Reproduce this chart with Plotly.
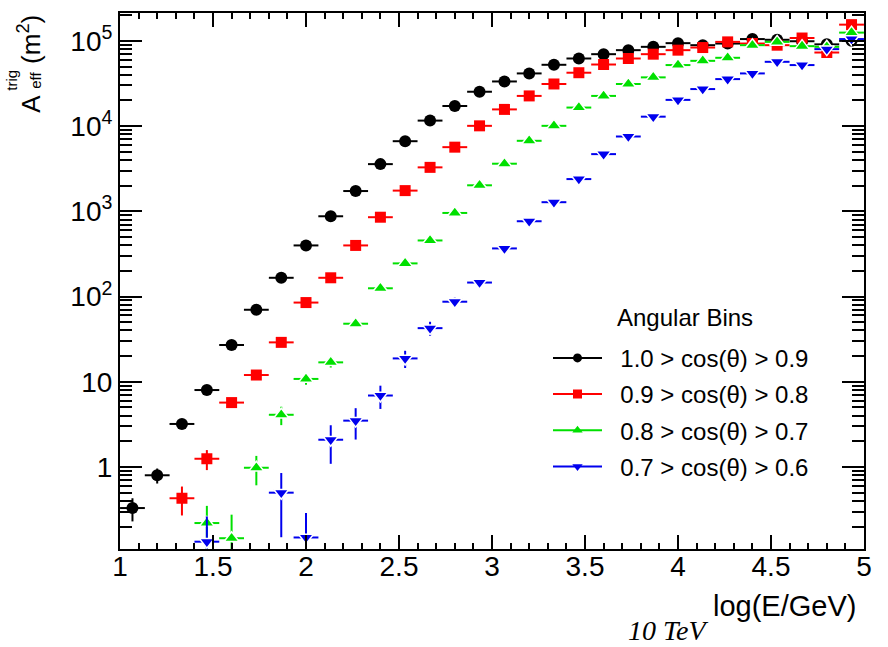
import plotly.graph_objects as go

# Energy bin centres, log10(E/GeV); 30 bins of width 0.1333 between 1 and 5
log_energy = [1.067, 1.2, 1.333, 1.467, 1.6, 1.733, 1.867, 2.0, 2.133, 2.267,
              2.4, 2.533, 2.667, 2.8, 2.933, 3.067, 3.2, 3.333, 3.467, 3.6,
              3.733, 3.867, 4.0, 4.133, 4.267, 4.4, 4.533, 4.667, 4.8, 4.933]
bin_half_width = 0.0667

# Triggered effective area (m^2) per zenith-angle bin
aeff_cos_10_09 = [0.33, 0.8, 3.2, 8.0, 27, 70, 166, 398, 875, 1730,
                  3580, 6650, 11600, 17200, 25300, 33400, 41500, 52400, 62100, 69800,
                  77800, 85100, 94000, 89000, 93000, 105000, 103000, 99000, 91000, 100000]
err_cos_10_09 = [0.1, 0.16, 0.4, 0.8, 1.8, 3.5, 6, 10, 15, 22,
                 32, 45, 60, 75, 90, 105, 115, 130, 140, 150,
                 160, 170, 180, 175, 180, 190, 190, 190, 185, 190]

aeff_cos_09_08 = [None, None, 0.43, 1.25, 5.7, 12, 29, 85, 166, 398,
                  853, 1750, 3280, 5660, 10070, 15700, 22600, 31200, 42300, 52800,
                  62100, 69800, 77800, 83500, 97300, 93100, 89000, 108000, 73000, 155000]
err_cos_09_08 = [None, None, 0.16, 0.33, 0.6, 1.0, 1.8, 3, 5, 8,
                 12, 18, 25, 34, 45, 55, 65, 80, 95, 105,
                 115, 125, 130, 140, 150, 150, 150, 165, 140, 210]

aeff_cos_08_07 = [None, None, None, 0.22, 0.146, 0.98, 4.1, 10.8, 16.9, 48,
                  125, 245, 455, 957, 2020, 3620, 6720, 10070, 16500, 22600,
                  31200, 37300, 52000, 58300, 63300, 89000, 97300, 86700, 85100, 125000]
err_cos_08_07 = [None, None, None, 0.13, 0.13, 0.37, 1.0, 1.6, 2.2, 4,
                 7, 10, 14, 20, 30, 40, 55, 70, 90, 105,
                 125, 135, 160, 170, 180, 210, 220, 210, 210, 250]

aeff_cos_07_06 = [None, None, None, 0.133, None, None, 0.5, 0.149, 2.09, 3.5,
                  6.9, 18.8, 42.6, 87, 146, 367, 765, 1280, 2390, 4690,
                  7550, 12900, 20300, 27200, 35600, 41500, 56800, 52000, 80000, 105000]
err_cos_07_06 = [None, None, None, 0.13, None, None, 0.35, 0.14, 1.0, 1.4,
                 2.1, 4.3, 8, 10, 13, 20, 30, 38, 50, 70,
                 90, 110, 140, 165, 190, 200, 240, 230, 280, 320]

series_names = ["1.0 > cos(\u03b8) > 0.9", "0.9 > cos(\u03b8) > 0.8",
                "0.8 > cos(\u03b8) > 0.7", "0.7 > cos(\u03b8) > 0.6"]
legend_title = "Angular Bins"

y_tick_values = [1, 10, 100, 1000, 10000, 100000]
y_tick_labels = ["1", "10", "10<sup>2</sup>", "10<sup>3</sup>", "10<sup>4</sup>", "10<sup>5</sup>"]
x_tick_values = [1, 1.5, 2, 2.5, 3, 3.5, 4, 4.5, 5]
x_tick_labels = ["1", "1.5", "2", "2.5", "3", "3.5", "4", "4.5", "5"]

SANS = "Liberation Sans, Arial, sans-serif"

styles = [
    dict(color="#000000", symbol="circle", size=12, line=dict(width=0)),
    dict(color="#ff0000", symbol="square", size=11, line=dict(width=0)),
    dict(color="#00e000", symbol="triangle-up", size=13, line=dict(width=1.5, color="white")),
    dict(color="#0000ee", symbol="triangle-down", size=13, line=dict(width=1.5, color="white")),
]
legend_marker_sizes = [9, 9, 9, 9]

fig = go.Figure()

datasets = [
    (aeff_cos_10_09, err_cos_10_09),
    (aeff_cos_09_08, err_cos_09_08),
    (aeff_cos_08_07, err_cos_08_07),
    (aeff_cos_07_06, err_cos_07_06),
]

for (vals, errs), st, name in zip(datasets, styles, series_names):
    xs = [x for x, v in zip(log_energy, vals) if v is not None]
    ys = [v for v in vals if v is not None]
    es = [e for e, v in zip(errs, vals) if v is not None]
    fig.add_trace(go.Scatter(
        x=xs, y=ys, mode="markers", showlegend=False, cliponaxis=True,
        marker=dict(color=st["color"], symbol=st["symbol"], size=st["size"], line=st["line"]),
        error_x=dict(type="constant", value=bin_half_width, color=st["color"],
                     thickness=2, width=0),
        error_y=dict(type="data", array=es, color=st["color"], thickness=2, width=0),
    ))

# Legend entries drawn as line + marker samples
for i, (st, name, ms) in enumerate(zip(styles, series_names, legend_marker_sizes)):
    fig.add_trace(go.Scatter(
        x=[None], y=[None], mode="lines+markers", name="\u00a0\u00a0" + name,
        legendgroup=f"g{i}",
        line=dict(color=st["color"], width=2),
        marker=dict(color=st["color"], symbol=st["symbol"], size=ms),
    ))

axis_common = dict(
    showline=True, linecolor="black", linewidth=2, mirror="allticks",
    ticks="inside", tickcolor="black", tickwidth=1.5,
    showgrid=False, zeroline=False,
    tickfont=dict(family=SANS, size=28, color="black"),
)

fig.update_xaxes(
    range=[1, 5], tickmode="array", tickvals=x_tick_values, ticktext=x_tick_labels,
    ticklen=14, ticklabelstandoff=-9,
    minor=dict(ticks="inside", ticklen=6, tickwidth=1.5, tickcolor="black", dtick=0.1, showgrid=False),
    **axis_common,
)
fig.update_yaxes(
    type="log", range=[-0.962, 5.327], tickmode="array",
    tickvals=y_tick_values, ticktext=y_tick_labels,
    ticklen=22,
    minor=dict(ticks="inside", ticklen=12, tickwidth=1.5, tickcolor="black", dtick="D1", showgrid=False),
    **axis_common,
)

L, R, T, B = 120, 24, 11, 98
W, H = 888, 647
pw, ph = W - L - R, H - T - B


def px(x):
    return (x - L) / pw


def py(y):
    return (H - B - y) / ph


annotations = [
    dict(text=legend_title, x=px(685), y=py(317), xanchor="center", yanchor="middle",
         font=dict(family=SANS, size=24, color="black")),
    dict(text="log(E/GeV)", x=px(858), y=py(606), xanchor="right", yanchor="middle",
         font=dict(family=SANS, size=29, color="black")),
    dict(text="<i>10 TeV</i>", x=px(668), y=py(631), xanchor="center", yanchor="middle",
         font=dict(family="Liberation Serif, Times New Roman, serif", size=28, color="black")),
    # y-axis title: A with stacked sub/superscript, then units
    dict(text="A", x=px(31), y=py(102), textangle=-90, xanchor="center", yanchor="middle",
         font=dict(family=SANS, size=26, color="black")),
    dict(text="trig", x=px(12), y=py(78), textangle=-90, xanchor="center", yanchor="middle",
         font=dict(family=SANS, size=15, color="black")),
    dict(text="eff", x=px(36), y=py(79), textangle=-90, xanchor="center", yanchor="middle",
         font=dict(family=SANS, size=15, color="black")),
    dict(text="(m<sup>2</sup>)", x=px(30), y=py(38), textangle=-90, xanchor="center", yanchor="middle",
         font=dict(family=SANS, size=26, color="black")),
]
for a in annotations:
    a.update(xref="paper", yref="paper", showarrow=False)

fig.update_layout(
    width=W, height=H,
    margin=dict(l=L, r=R, t=T, b=B),
    paper_bgcolor="white", plot_bgcolor="white",
    font=dict(family=SANS, color="black"),
    annotations=annotations,
    legend=dict(
        x=px(548), y=py(335), xanchor="left", yanchor="top",
        bgcolor="rgba(0,0,0,0)", borderwidth=0,
        font=dict(family=SANS, size=24, color="black"),
        itemwidth=49, traceorder="grouped", tracegroupgap=2,
    ),
)

fig.write_html("out.html")
